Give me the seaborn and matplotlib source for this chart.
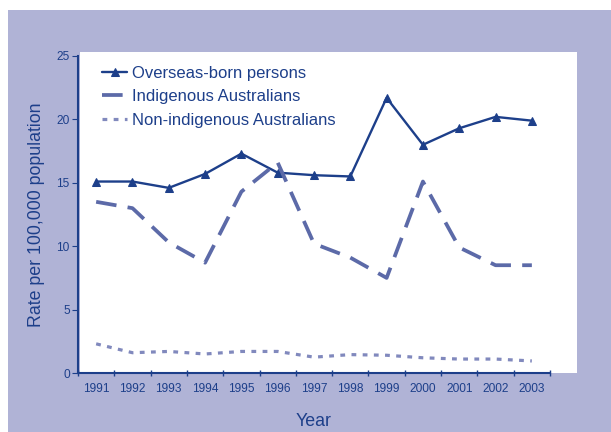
import pandas as pd
import matplotlib
matplotlib.use('Agg')
import matplotlib.pyplot as plt
from matplotlib.patches import Rectangle
import seaborn as sns

years = list(range(1991, 2004))
overseas = [15.1, 15.1, 14.6, 15.7, 17.3, 15.8, 15.6, 15.5, 21.7, 18.0, 19.3, 20.2, 19.9]
indigenous = [13.5, 13.0, 10.3, 8.7, 14.3, 16.6, 10.2, 9.1, 7.5, 15.1, 9.9, 8.5, 8.5]
non_indigenous = [2.3, 1.6, 1.7, 1.5, 1.7, 1.7, 1.25, 1.45, 1.4, 1.2, 1.1, 1.1, 0.95]

NAVY = '#1d3f8a'
MID = '#5c6aa8'
LIGHT = '#8189bd'
LAVENDER = '#b0b3d6'

sns.set_style('white')
plt.rcParams['font.family'] = ['Liberation Sans', 'DejaVu Sans']

fig = plt.figure(figsize=(6.11, 4.32), dpi=100, facecolor='white')
# lavender panel and white plot area (Excel style), kept behind the axes
fig.patches.append(Rectangle((8 / 611, 0), 1, 422 / 432, transform=fig.transFigure,
                             facecolor=LAVENDER, edgecolor='none', zorder=-10))
fig.patches.append(Rectangle((80 / 611, 59 / 432), 497 / 611, 321 / 432, transform=fig.transFigure,
                             facecolor='white', edgecolor='none', zorder=-9))

ax = fig.add_axes([78 / 611, 59 / 432, 472 / 611, 317 / 432])
ax.set_facecolor('none')

df = pd.DataFrame({'year': years, 'overseas': overseas,
                   'indigenous': indigenous, 'non_indigenous': non_indigenous})

sns.lineplot(data=df, x='year', y='overseas', ax=ax, color=NAVY, lw=1.7,
             marker='^', markersize=6, markeredgecolor=NAVY, label='Overseas-born persons')
sns.lineplot(data=df, x='year', y='indigenous', ax=ax, color=MID, lw=2.7,
             label='Indigenous Australians').lines[-1].set_dashes([5.5, 3])
sns.lineplot(data=df, x='year', y='non_indigenous', ax=ax, color=LIGHT, lw=2.3,
             label='Non-indigenous Australians').lines[-1].set_dashes([1.5, 2.0])

ax.set_xlim(1990.5, 2003.5)
ax.set_ylim(0, 25)
ax.set_yticks([0, 5, 10, 15, 20, 25])
ax.set_xticks(years)
ax.set_xticks([y - 0.5 for y in years] + [2003.5], minor=True)
ax.tick_params(axis='x', which='major', length=0, labelsize=8.6, labelcolor=NAVY, pad=7)
ax.tick_params(axis='x', which='minor', bottom=True, length=4, direction='inout',
               color=NAVY, width=1)
ax.tick_params(axis='y', length=4, direction='out', color=NAVY, labelsize=8.6,
               labelcolor=NAVY, left=True, pad=2)

for side in ['top', 'right']:
    ax.spines[side].set_visible(False)
for side in ['left', 'bottom']:
    ax.spines[side].set_color(NAVY)
    ax.spines[side].set_linewidth(1.5)

ax.set_xlabel('Year', fontsize=12.8, color=NAVY, labelpad=13)
ax.set_ylabel('Rate per 100,000 population', fontsize=12.8, color=NAVY, labelpad=8)

ax.legend(loc='upper left', frameon=False, fontsize=12, labelcolor=NAVY,
          handlelength=1.5, handletextpad=0.3, labelspacing=0.5,
          borderaxespad=0.2, bbox_to_anchor=(0.03, 1.0))

fig.savefig('out.png', dpi=100, facecolor=fig.get_facecolor())
